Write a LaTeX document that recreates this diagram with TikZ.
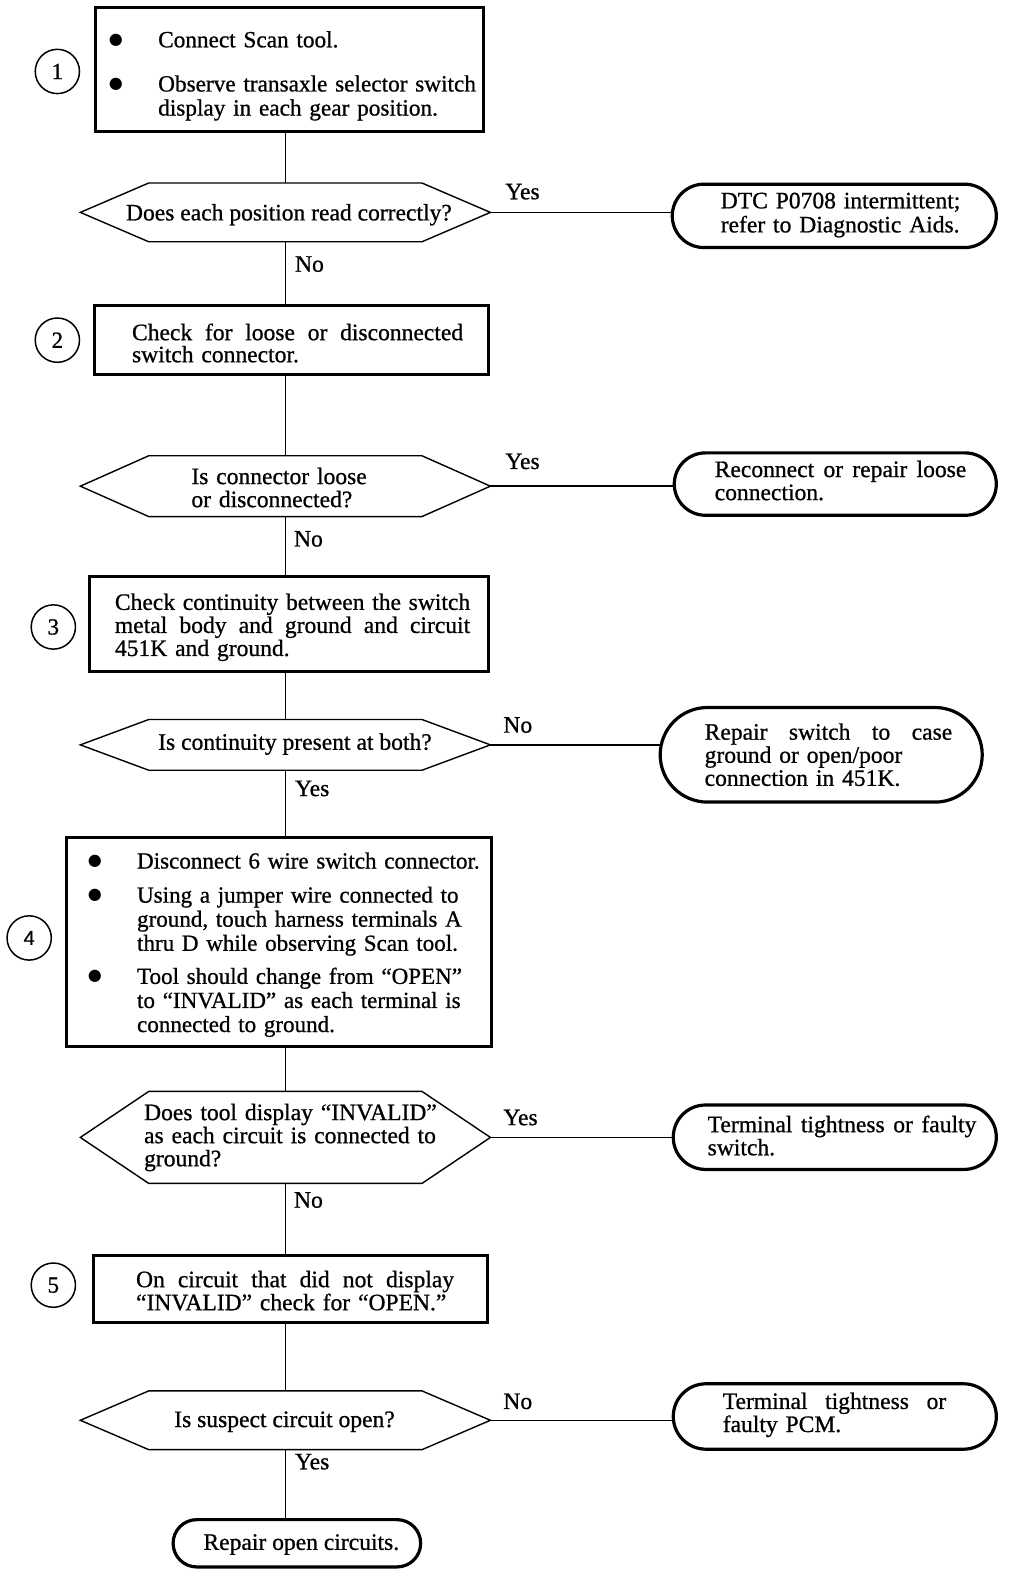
\documentclass[tikz,border=0pt]{standalone}
\usepackage{fontspec}
\setmainfont{Liberation Serif}[FakeBold=0.8]
\newfontfamily\numsans{Liberation Sans}[FakeBold=0.8]
\newfontfamily\dejavu{DejaVu Sans}
\usetikzlibrary{shapes.misc}
\setlength\parindent{0pt}
\newcommand\bul{\makebox[50bp][l]{\hspace*{1bp}\raisebox{3bp}{\dejavu\fontsize{16}{16}\selectfont ●}}}
\newcommand\jl[2]{\leavevmode\hbox to #1{\spaceskip=\fontdimen2\font plus 1fil\relax #2}}
\tikzset{
  box/.style={draw, line width=3bp, rectangle, inner sep=0pt},
  hexa/.style={inner sep=0pt, minimum width=407bp},
  hexline/.style={line width=1.4bp, line join=miter},
  term/.style={draw, rounded rectangle, line width=3.2bp, inner sep=0pt},
  num/.style={draw, circle, line width=1.5bp, minimum size=44bp, inner sep=0pt, font=\fontsize{23}{24}\selectfont},
  txt/.style={inner sep=0pt, anchor=base west, text width=300bp, font=\fontsize{23.5}{24}\selectfont},
  txtb/.style={txt, font=\fontsize{23.5}{23}\selectfont},
  lbl/.style={inner sep=0pt, anchor=base west, font=\fontsize{23.5}{24}\selectfont},
  conn/.style={line width=1.4bp},
}
\begin{document}
\begin{tikzpicture}[x=1bp,y=-1bp,scale=1.0064,every node/.append style={transform shape}]
\useasboundingbox (0,0) rectangle (1017.5,1568);
% ---------- shapes ----------
\node[box, minimum width=385bp, minimum height=124bp] (b1) at (287.5,69) {};
\node[hexa, minimum height=58bp] (h1) at (283.5,211) {};
\node[term, minimum width=322bp, minimum height=63bp] (s1) at (829,214.5) {};
\node[box, minimum width=391bp, minimum height=68bp] (b2) at (289.5,338) {};
\node[hexa, minimum height=60bp] (h2) at (283.5,483) {};
\node[term, minimum width=320bp, minimum height=62bp] (s2) at (830,481) {};
\node[box, minimum width=396bp, minimum height=94bp] (b3) at (287,620) {};
\node[hexa, minimum height=50bp] (h3) at (283.5,740) {};
\node[term, minimum width=320bp, minimum height=94bp] (s3) at (816,750) {};
\node[box, minimum width=422bp, minimum height=208bp] (b4) at (277,936) {};
\node[hexa, minimum height=91bp] (h4) at (283.5,1130) {};
\node[term, minimum width=321bp, minimum height=64bp] (s4) at (829.5,1130) {};
\node[box, minimum width=391bp, minimum height=66bp] (b5) at (288.5,1281) {};
\node[hexa, minimum height=58bp] (h5) at (283.5,1411) {};
\node[term, minimum width=321bp, minimum height=65bp] (s5) at (829.5,1407.5) {};
\node[term, minimum width=246bp, minimum height=47bp] (s6) at (295,1533.5) {};
\foreach \n in {h1,h2,h3,h4,h5}
  \draw[hexline] (\n.west) -- ([xshift=68bp]\n.north west) -- ([xshift=-68bp]\n.north east)
    -- (\n.east) -- ([xshift=-68bp]\n.south east) -- ([xshift=68bp]\n.south west) -- cycle;
% ---------- step numbers ----------
\node[num] (c1) at (57,71) {1};
\node[num] (c2) at (57,338) {2};
\node[num] (c3) at (53,623) {3};
\node[num, font=\numsans\fontsize{20}{24}\selectfont] (c4) at (29,932) {4};
\node[num] (c5) at (53,1277) {5};
% ---------- texts ----------
\node[txt, text width=370bp, font=\fontsize{23.2}{24}\selectfont] (t1) at (107,47) {\bul Connect Scan tool.\\[20bp]
  \bul Observe transaxle selector switch\\
  \hspace*{50bp}display in each gear position.};
\node[lbl] (q1) at (125,219) {Does each position read correctly?};
\node[txt] (r1) at (716,207) {DTC P0708 intermittent;\\refer to Diagnostic Aids.};
\node[txt, text width=350bp, font=\fontsize{23.5}{22}\selectfont] (t2) at (131,338) {\jl{329bp}{Check for loose or disconnected}\\switch connector.};
\node[txtb] (q2) at (190,481) {Is connector loose\\or disconnected?};
\node[txtb] (r2) at (710,474) {\jl{250bp}{Reconnect or repair loose}\\connection.};
\node[txtb, text width=370bp] (t3) at (114,606) {\jl{353bp}{Check continuity between the switch}\\\jl{353bp}{metal body and ground and circuit}\\451K and ground.};
\node[lbl] (q3) at (157,745) {Is continuity present at both?};
\node[txtb] (r3) at (700,735) {\jl{246bp}{Repair switch to case}\\ground or open/poor\\connection in 451K.};
\node[txt, text width=400bp, font=\fontsize{23}{24}\selectfont] (t4) at (86,863) {\bul Disconnect 6 wire switch connector.\\[10bp]
  \bul Using a jumper wire connected to\\
  \hspace*{50bp}ground, touch harness terminals A\\
  \hspace*{50bp}thru D while observing Scan tool.\\[9bp]
  \bul Tool should change from “OPEN”\\
  \hspace*{50bp}to “INVALID” as each terminal is\\
  \hspace*{50bp}connected to ground.};
\node[txtb] (q4) at (143,1113) {Does tool display “INVALID”\\as each circuit is connected to\\ground?};
\node[txtb] (r4) at (703,1125) {\jl{267bp}{Terminal tightness or faulty}\\switch.};
\node[txtb, text width=350bp] (t5) at (135,1279) {\jl{316bp}{On circuit that did not display}\\“INVALID” check for “OPEN.”};
\node[lbl] (q5) at (173,1418) {Is suspect circuit open?};
\node[txtb] (r5) at (718,1400) {\jl{222bp}{Terminal tightness or}\\faulty PCM.};
\node[lbl] (r6) at (202,1540) {Repair open circuits.};
% ---------- branch labels ----------
\node[lbl] (y1) at (502,198) {Yes};
\node[lbl] (n1) at (293,270) {No};
\node[lbl] (y2) at (502,466) {Yes};
\node[lbl] (n2) at (292,543) {No};
\node[lbl] (n3) at (500,728) {No};
\node[lbl] (y3) at (293,791) {Yes};
\node[lbl] (y4) at (500,1118) {Yes};
\node[lbl] (n4) at (292,1200) {No};
\node[lbl] (n5) at (500,1400) {No};
\node[lbl] (y5) at (293,1460) {Yes};
% ---------- connectors ----------
\draw[conn] (b1.south -| h1.north) -- (h1.north);
\draw[conn] (h1.south) -- (h1.south |- b2.north);
\draw[conn] (b2.south -| h2.north) -- (h2.north);
\draw[conn] (h2.south) -- (h2.south |- b3.north);
\draw[conn] (b3.south -| h3.north) -- (h3.north);
\draw[conn] (h3.south) -- (h3.south |- b4.north);
\draw[conn] (b4.south -| h4.north) -- (h4.north);
\draw[conn] (h4.south) -- (h4.south |- b5.north);
\draw[conn] (b5.south -| h5.north) -- (h5.north);
\draw[conn] (h5.south) -- (h5.south |- s6.north);
\draw[conn] (h1.east) -- (h1.east -| s1.west);
\draw[conn] (h2.east) -- (h2.east -| s2.west);
\draw[conn] (h3.east) -- ([xshift=1bp]h3.east -| s3.west);
\draw[conn] (h4.east) -- (h4.east -| s4.west);
\draw[conn] (h5.east) -- (h5.east -| s5.west);
\end{tikzpicture}
\end{document}
